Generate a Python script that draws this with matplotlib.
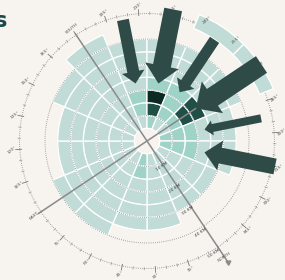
import numpy as np
import matplotlib
matplotlib.use("Agg")
import matplotlib.pyplot as plt

# wind directions (compass, 16 points) and cell classes per 5 km distance ring
directions = ['N', 'NNE', 'NE', 'ENE', 'E', 'ESE', 'SE', 'SSE',
              'S', 'SSW', 'SW', 'WSW', 'W', 'WNW', 'NW', 'NNW']
ring_start_km = [5, 10, 15, 20, 25, 30, 35, 40]
# 0 = no data, 1 = low, 2 = medium, 3 = high, 4 = very high
cells = {
    'N':   [1, 1, 1, 1, 1, 0, 0, 0],
    'NNE': [1, 1, 1, 1, 1, 1, 0, 0],
    'NE':  [2, 2, 1, 1, 1, 1, 0, 0],
    'ENE': [1, 1, 1, 1, 1, 1, 1, 0],
    'E':   [1, 1, 1, 1, 1, 1, 1, 0],
    'ESE': [1, 1, 1, 1, 1, 1, 0, 0],
    'SE':  [1, 1, 1, 1, 1, 1, 0, 0],
    'SSE': [1, 1, 1, 1, 1, 1, 1, 0],
    'S':   [1, 1, 1, 1, 1, 1, 1, 1],
    'SSW': [1, 2, 2, 1, 1, 1, 1, 0],
    'SW':  [2, 3, 4, 2, 1, 1, 1, 0],
    'WSW': [1, 2, 2, 2, 1, 1, 1, 0],
    'W':   [1, 2, 3, 3, 1, 1, 1, 0],
    'WNW': [2, 2, 2, 1, 1, 1, 0, 0],
    'NW':  [2, 2, 2, 1, 1, 1, 0, 0],
    'NNW': [1, 1, 1, 1, 1, 0, 0, 0],
}
outer_band_dirs = ['WSW', 'W']

# prevailing wind arrows
arrow_dirs = ['SSW', 'SW', 'WSW', 'W', 'WNW', 'NW']
arrow_speed = [12, 18, 11, 20, 8, 16]

km_rings = [10, 20, 30, 40]
km_labels = [10, 20, 30, 40, 50]

BG = '#f7f3ee'
colors = {1: '#c1dcd7', 2: '#9fd3c8', 3: '#1f4f47', 4: '#0b2a24'}
ARROW = '#2e4b47'
GRID = '#8e8e8e'

PX_PER_KM = 2.55
RMAX = 62
W, H = 285, 280
cx, cy = 147, 141
R = RMAX * PX_PER_KM

fig = plt.figure(figsize=(W / 100, H / 100), dpi=100, facecolor=BG)
ax = fig.add_axes([(cx - R) / W, (H - cy - R) / H, 2 * R / W, 2 * R / H],
                  projection='polar')
ax.set_theta_direction(-1)
ax.set_theta_offset(np.radians(90 - 146.25))
ax.set_ylim(0, RMAX)
ax.axis('off')
ax.patch.set_visible(False)

step = 2 * np.pi / 16
theta = {d: i * step for i, d in enumerate(directions)}

# cells
for d in directions:
    for start, v in zip(ring_start_km, cells[d]):
        if v:
            ax.bar(theta[d], 5, width=step, bottom=start, color=colors[v],
                   edgecolor='white', linewidth=0.9, zorder=2)
for d in outer_band_dirs:
    ax.bar(theta[d], 5.8, width=step, bottom=47.8, color=colors[1],
           edgecolor='white', linewidth=0.9, zorder=4)

# dotted distance circles
circ = np.linspace(0, 2 * np.pi, 500)
for r in km_rings:
    ax.plot(circ, np.full_like(circ, r), color=GRID, lw=0.7,
            ls=(0, (0.8, 1.4)), zorder=3)
ax.plot(circ, np.full_like(circ, 50), color=GRID, lw=0.7,
        ls=(0, (0.8, 1.4)), zorder=3)

# degree ticks on the outer ring
for deg in range(0, 360, 5):
    t = np.radians(deg)
    if deg % 15 == 0:
        ax.plot([t, t], [49.3, 51.6], color='#777777', lw=0.6, zorder=3)
    else:
        ax.plot([t, t], [49.6, 50.6], color='#999999', lw=0.5, zorder=3)
names = {0: 'NORTH', 90: 'EAST', 180: 'SOUTH', 270: 'WEST'}
for deg in range(0, 360, 15):
    if deg == 0:
        continue
    ax.text(np.radians(deg), 53.0, names.get(deg, '%d°' % deg),
            fontsize=3.2, color='#555555', rotation=40,
            ha='center', va='center', zorder=5)

# axes lines N-S and E-W
ax.plot([np.pi, np.pi], [50.5, 0], color='#8a8a8a', lw=1.1, zorder=3)
ax.plot([0, 0], [0, 56.5], color='#8a8a8a', lw=1.1, zorder=3)
ax.plot([0], [57.2], marker=(3, 0, -146.25 + 180 + 30), ms=4,
        color='#8a8a8a', zorder=3)
ax.text(0, 54.6, 'NORTH', fontsize=3.2, color='#555555', rotation=34,
        ha='center', va='center', zorder=5)
ax.plot([np.pi / 2, np.pi / 2], [51, 0], color='#8a8a8a', lw=1.1, zorder=3)
ax.plot([3 * np.pi / 2, 3 * np.pi / 2], [51, 0], color='#8a8a8a', lw=1.1,
        zorder=3)
for k in km_labels:
    ax.text(np.radians(3), k + 1.5, '%d KM' % k, fontsize=3.2,
            color='#444444', rotation=34, ha='center', va='center', zorder=5)

# wind arrows
for d, s in zip(arrow_dirs, arrow_speed):
    tail = 40 + 0.7 * s
    tw = s * 0.72
    style = 'simple,head_length=%.1f,head_width=%.1f,tail_width=%.1f' % (
        tw * 1.0, tw * 1.9, tw)
    ax.annotate('', xy=(theta[d], 23), xytext=(theta[d], tail),
                arrowprops=dict(arrowstyle=style, color=ARROW, lw=0,
                                shrinkA=0, shrinkB=0, mutation_scale=1),
                zorder=6, annotation_clip=False)

fig.text(8 / W, 1 - 21 / H, 'Winds', ha='right', va='center', fontsize=15,
         color='#1c4a48', fontweight='bold')

fig.savefig('out.png', dpi=100, facecolor=BG)
